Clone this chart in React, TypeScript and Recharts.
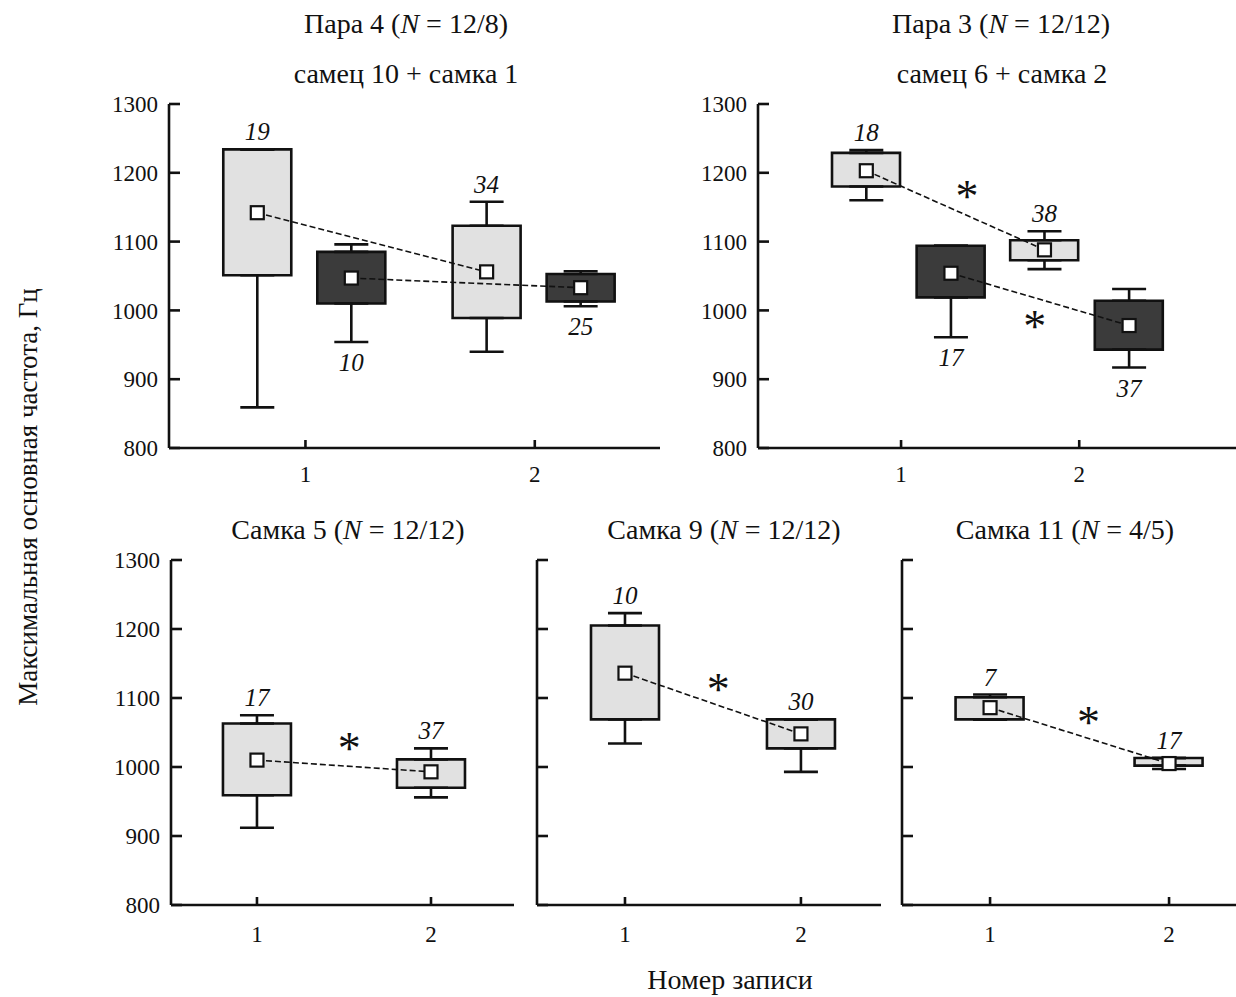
import React from 'react';
import { ComposedChart, Bar, Cell, Scatter, ErrorBar, XAxis, YAxis } from 'recharts';

type Box = {
  rec: number;
  series: 0 | 1;
  min: number;
  q1: number;
  q3: number;
  max: number;
  mean: number;
  n: string;
};

type Star = { rec: number; val: number };

const recordTicks = [1, 2];
const freqTicks = [800, 900, 1000, 1100, 1200, 1300];

// Пара 4 (самец 10 + самка 1)
const pair4Boxes: Box[] = [
  { rec: 1, series: 0, min: 859, q1: 1051, q3: 1234, max: 1234, mean: 1142, n: '19' },
  { rec: 1, series: 1, min: 954, q1: 1010, q3: 1085, max: 1096, mean: 1047, n: '10' },
  { rec: 2, series: 0, min: 940, q1: 989, q3: 1123, max: 1158, mean: 1056, n: '34' },
  { rec: 2, series: 1, min: 1006, q1: 1013, q3: 1053, max: 1057, mean: 1033, n: '25' },
];
const pair4Stars: Star[] = [];

// Пара 3 (самец 6 + самка 2)
const pair3Boxes: Box[] = [
  { rec: 1, series: 0, min: 1160, q1: 1180, q3: 1229, max: 1233, mean: 1203, n: '18' },
  { rec: 1, series: 1, min: 961, q1: 1019, q3: 1094, max: 1094, mean: 1054, n: '17' },
  { rec: 2, series: 0, min: 1060, q1: 1073, q3: 1102, max: 1115, mean: 1088, n: '38' },
  { rec: 2, series: 1, min: 917, q1: 943, q3: 1014, max: 1031, mean: 978, n: '37' },
];
const pair3Stars: Star[] = [
  { rec: 1.37, val: 1173 },
  { rec: 1.75, val: 984 },
];

const female5Boxes: Box[] = [
  { rec: 1, series: 0, min: 912, q1: 959, q3: 1063, max: 1075, mean: 1010, n: '17' },
  { rec: 2, series: 0, min: 956, q1: 970, q3: 1011, max: 1027, mean: 993, n: '37' },
];
const female5Stars: Star[] = [{ rec: 1.53, val: 1035 }];

const female9Boxes: Box[] = [
  { rec: 1, series: 0, min: 1034, q1: 1069, q3: 1205, max: 1223, mean: 1136, n: '10' },
  { rec: 2, series: 0, min: 993, q1: 1027, q3: 1069, max: 1069, mean: 1048, n: '30' },
];
const female9Stars: Star[] = [{ rec: 1.53, val: 1120 }];

const female11Boxes: Box[] = [
  { rec: 1, series: 0, min: 1069, q1: 1069, q3: 1101, max: 1105, mean: 1086, n: '7' },
  { rec: 2, series: 0, min: 997, q1: 1002, q3: 1013, max: 1013, mean: 1005, n: '17' },
];
const female11Stars: Star[] = [{ rec: 1.55, val: 1073 }];

const FONT = '"Liberation Serif", "Times New Roman", serif';
const FILLS = ['#e1e1e1', '#3b3b3b'];
const INK = '#111';

interface PanelProps {
  boxes: Box[];
  stars: Star[];
  left: number;
  top: number;
  width: number;
  height: number;
  yAxisWidth: number;
  xDomain: [number, number];
  offsets: [number, number];
  showYLabels: boolean;
  tickGap: number;
}

const MeanSquare = (p: any) => (
  <rect x={p.cx - 6.5} y={p.cy - 6.5} width={13} height={13} fill="#fff" stroke={INK} strokeWidth={2.2} />
);

const Nothing = () => <g />;

function Panel({ boxes, stars, left, top, width, height, yAxisWidth, xDomain, offsets, showYLabels, tickGap }: PanelProps) {
  const data = boxes.map(b => ({ ...b, pos: b.rec + offsets[b.series] }));
  const starData = stars.map(s => ({ pos: s.rec, val: s.val }));
  const series = [0, 1].map(s => data.filter(d => d.series === s)).filter(a => a.length > 0);
  const above = data.filter(d => d.series === 0);
  const below = data.filter(d => d.series === 1);

  return (
    <div style={{ position: 'absolute', left, top }}>
      <ComposedChart width={width} height={height} data={data} margin={{ top: 20, right: 0, bottom: 0, left: 0 }}>
        <XAxis
          type="number"
          dataKey="pos"
          domain={xDomain}
          ticks={recordTicks}
          allowDataOverflow
          height={50}
          tickSize={-8}
          tickMargin={tickGap}
          axisLine={{ stroke: INK, strokeWidth: 2.6 }}
          tickLine={{ stroke: INK, strokeWidth: 2.6 }}
          tick={{ fontFamily: FONT, fontSize: 23, fill: INK }}
        />
        <XAxis xAxisId="stars" type="number" dataKey="pos" domain={xDomain} allowDataOverflow hide />
        <YAxis
          type="number"
          domain={[800, 1300]}
          ticks={freqTicks}
          interval={0}
          allowDataOverflow
          width={yAxisWidth}
          tickSize={-11}
          tickMargin={22}
          axisLine={{ stroke: INK, strokeWidth: 2.6 }}
          tickLine={{ stroke: INK, strokeWidth: 2.6 }}
          tick={showYLabels ? { fontFamily: FONT, fontSize: 23, fill: INK } : Nothing}
        />
        <Bar dataKey={(d: any) => [d.q1, d.q3]} barSize={68} isAnimationActive={false} stroke={INK} strokeWidth={2.6}>
          {data.map((d, i) => (
            <Cell key={i} fill={FILLS[d.series]} />
          ))}
        </Bar>
        <Scatter data={data} dataKey="q3" shape={Nothing} isAnimationActive={false}>
          <ErrorBar dataKey={(d: any) => [0, d.max - d.q3]} direction="y" width={17} stroke={INK} strokeWidth={2.6} />
        </Scatter>
        <Scatter data={data} dataKey="q1" shape={Nothing} isAnimationActive={false}>
          <ErrorBar dataKey={(d: any) => [d.q1 - d.min, 0]} direction="y" width={17} stroke={INK} strokeWidth={2.6} />
        </Scatter>
        {series.map((s, i) => (
          <Scatter
            key={`mean-${i}`}
            data={s}
            dataKey="mean"
            line={{ stroke: INK, strokeWidth: 1.6, strokeDasharray: '6 3' }}
            shape={MeanSquare}
            isAnimationActive={false}
          />
        ))}
        {above.length > 0 && (
          <Scatter
            data={above}
            dataKey="max"
            isAnimationActive={false}
            shape={(p: any) => (
              <text x={p.cx} y={p.cy - 9} textAnchor="middle" fontFamily={FONT} fontSize={25} fontStyle="italic" fill={INK}>
                {p.payload.n}
              </text>
            )}
          />
        )}
        {below.length > 0 && (
          <Scatter
            data={below}
            dataKey="min"
            isAnimationActive={false}
            shape={(p: any) => (
              <text x={p.cx} y={p.cy + 29} textAnchor="middle" fontFamily={FONT} fontSize={25} fontStyle="italic" fill={INK}>
                {p.payload.n}
              </text>
            )}
          />
        )}
        {starData.length > 0 && (
          <Scatter
            data={starData}
            xAxisId="stars"
            dataKey="val"
            isAnimationActive={false}
            shape={(p: any) => (
              <text x={p.cx} y={p.cy + 21} textAnchor="middle" fontFamily={FONT} fontSize={46} fill={INK}>
                *
              </text>
            )}
          />
        )}
      </ComposedChart>
    </div>
  );
}

export default function App() {
  const title = { fontFamily: FONT, fontSize: 28, fill: INK, textAnchor: 'middle' as const };
  return (
    <div style={{ position: 'absolute', left: 0, top: 0, width: 1236, height: 997, background: '#fff' }}>
      <Panel boxes={pair4Boxes} stars={pair4Stars} left={100} top={84} width={560} height={414} yAxisWidth={69}
        xDomain={[0.405, 2.546]} offsets={[-0.21, 0.2]} showYLabels tickGap={26} />
      <Panel boxes={pair3Boxes} stars={pair3Stars} left={690} top={84} width={546} height={414} yAxisWidth={68}
        xDomain={[0.197, 2.88]} offsets={[-0.195, 0.28]} showYLabels tickGap={26} />
      <Panel boxes={female5Boxes} stars={female5Stars} left={100} top={540} width={414} height={415} yAxisWidth={71}
        xDomain={[0.506, 2.477]} offsets={[0, 0]} showYLabels tickGap={29} />
      <Panel boxes={female9Boxes} stars={female9Stars} left={470} top={540} width={411} height={415} yAxisWidth={67}
        xDomain={[0.5, 2.455]} offsets={[0, 0]} showYLabels={false} tickGap={29} />
      <Panel boxes={female11Boxes} stars={female11Stars} left={840} top={540} width={396} height={415} yAxisWidth={62}
        xDomain={[0.508, 2.374]} offsets={[0, 0]} showYLabels={false} tickGap={29} />
      <svg width={1236} height={997} style={{ position: 'absolute', left: 0, top: 0, pointerEvents: 'none' }}>
        <text x={406} y={33} {...title}>Пара 4 (<tspan fontStyle="italic">N</tspan> = 12/8)</text>
        <text x={406} y={83} {...title}>самец 10 + самка 1</text>
        <text x={1001} y={33} {...title}>Пара 3 (<tspan fontStyle="italic">N</tspan> = 12/12)</text>
        <text x={1002} y={83} {...title}>самец 6 + самка 2</text>
        <text x={348} y={539} {...title}>Самка 5 (<tspan fontStyle="italic">N</tspan> = 12/12)</text>
        <text x={724} y={539} {...title}>Самка 9 (<tspan fontStyle="italic">N</tspan> = 12/12)</text>
        <text x={1065} y={539} {...title}>Самка 11 (<tspan fontStyle="italic">N</tspan> = 4/5)</text>
        <text x={730} y={989} {...title}>Номер записи</text>
        <text x={0} y={0} {...title} fontSize={27} transform="translate(37 497) rotate(-90)">
          Максимальная основная частота, Гц
        </text>
      </svg>
    </div>
  );
}
